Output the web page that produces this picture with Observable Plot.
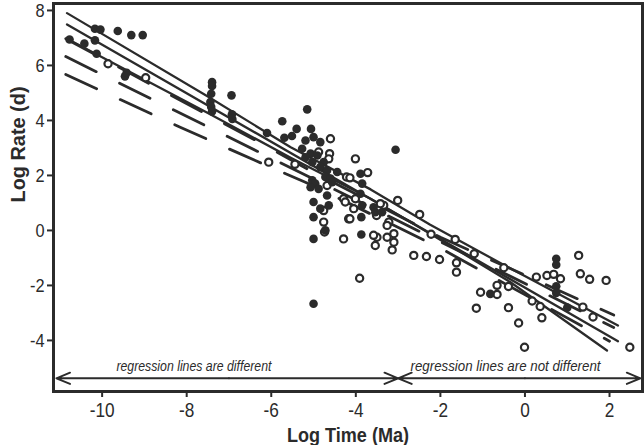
<!DOCTYPE html>
<html>
<head>
<meta charset="utf-8">
<script src="https://cdn.jsdelivr.net/npm/d3@7"></script>
<script src="https://cdn.jsdelivr.net/npm/@observablehq/plot@0.6"></script>
<style>
  html, body { margin: 0; padding: 0; background: #fff; }
  #chart { width: 644px; height: 445px; }
</style>
</head>
<body>
<div id="chart"></div>
<script>
// ---- data ----
const xTicks = [-10, -8, -6, -4, -2, 0, 2];
const yTicks = [-4, -2, 0, 2, 4, 6, 8];

const filledX = [-10.77,-10.42,-10.17,-10.17,-10.04,-10.13,-9.63,-9.31,-9.04,-9.46,-9.42,
  -7.4,-7.4,-7.42,-7.44,-7.42,-7.4,-6.94,-6.93,-6.92,
  -6.1,-5.74,-5.15,-5.4,-5.06,-5.69,-5.51,-5.19,-5.0,-4.84,-5.27,-5.07,-4.91,-5.19,-4.76,-5.03,-4.84,-4.68,-4.72,-4.6,-5.03,-4.96,-5.07,-4.88,-5.0,-4.68,-4.64,-4.84,-5.0,-4.72,-5.0,-5.0,-4.44,-4.56,
  -3.06,-3.89,-3.85,-3.89,-3.85,-3.87,-3.87,-3.58,-3.54,-3.38,
  -0.82,0.74,0.74,0.74,0.74,1.0];
const filledY = [6.87,6.72,6.84,7.26,7.23,6.35,7.18,7.03,7.03,5.53,5.66,
  5.32,5.18,4.9,4.6,4.42,4.25,4.84,4.15,3.98,
  3.47,3.9,4.33,3.62,3.62,3.3,3.36,3.2,3.32,3.14,2.9,2.72,2.65,2.59,2.41,2.41,2.23,2.11,1.87,1.81,1.75,1.63,1.5,1.44,0.96,1.2,0.84,0.72,0.41,-0.07,-0.38,-2.74,2.05,1.68,
  2.86,1.99,1.63,1.26,0.84,0.41,-0.22,0.77,0.59,0.59,
  -2.38,-1.1,-1.32,-2.1,-2.35,-2.88];

const openX = [-9.86,-8.97,-6.06,-5.44,
  -4.6,-4.62,-4.88,-4.64,-4.68,-4.22,-4.29,-4.25,-4.76,-4.76,-4.74,-4.29,-4.17,
  -4.01,-3.72,-4.14,-4.01,-4.05,-4.14,
  -3.51,-3.34,-3.01,-3.22,-3.5,-3.54,-3.26,-3.1,-3.1,-3.14,-3.42,-3.58,-3.26,
  -2.49,-2.63,-2.33,-3.91,-2.22,
  -2.02,-1.65,-1.62,-1.62,-1.2,-1.05,-1.15,-0.66,-0.66,-0.5,-0.39,-0.39,-0.15,-0.01,0.17,0.27,0.36,0.4,0.52,0.68,0.84,1.27,1.31,1.53,1.37,1.61,1.92,2.48];
const openY = [5.99,5.48,2.41,2.33,
  3.26,2.72,2.78,2.53,1.56,1.87,1.08,0.96,0.65,0.23,-0.13,-0.38,0.35,
  2.53,2.03,1.84,1.08,0.72,0.35,
  0.47,0.84,1.02,0.23,-0.32,-0.62,-0.32,-0.19,-0.5,-0.78,0.9,-0.25,0.11,
  0.51,-0.98,-1.02,-1.81,-0.21,
  -1.13,-0.4,-1.25,-1.59,-0.92,-2.32,-2.9,-2.07,-2.4,-1.43,-2.11,-2.88,-3.44,-4.32,-2.64,-1.77,-2.84,-3.25,-1.71,-1.67,-1.83,-0.98,-1.65,-1.85,-2.86,-3.22,-1.89,-4.32];

// regression line + bands, solid (filled series)
const solidUpper = [[-10.83,7.83],[-7.5,4.8],[-5.54,2.95],[-3.65,1.42],[-2.24,0.13],[-0.35,-1.45],[2.2,-3.53]];
const solidMid   = [[-10.83,7.42],[2.2,-4.1]];
const solidLower = [[-10.83,6.9],[-7.5,4.2],[-5.54,2.57],[-3.65,1.08],[-2.24,-0.19],[-0.35,-1.95],[1.94,-4.44]];
// regression line + bands, dashed (open series)
const dashUpper = [[-10.86,6.9],[-8.14,4.65],[-6.35,3.19],[-5.07,2.1],[-2,-0.32],[2.1,-3.15]];
const dashMid   = [[-10.86,6.25],[2.1,-3.6]];
const dashLower = [[-10.86,5.6],[-8.14,3.67],[-6.35,2.45],[-5.07,1.6],[-2,-0.72],[2.0,-4.1]];

const leftLabel = "regression lines are different";
const rightLabel = "regression lines are not different";
const leftLabelX = -7.83;
const rightLabelX = -0.46;
const xLabel = "Log Time (Ma)";
const yLabel = "Log Rate (d)";
const splitX = -3;
const arrowY = -5.45;
const arrowLeft = -11.08;
const arrowRight = 2.73;

// ---- build ----
const ink = "#2b2b2b";
const filled = filledX.map((x, i) => ({x, y: filledY[i]}));
const open = openX.map((x, i) => ({x, y: openY[i]}));
const font = "'Liberation Sans', Arial, Helvetica, sans-serif";

const chart = Plot.plot({
  width: 644,
  height: 445,
  marginLeft: 53,
  marginRight: 2,
  marginTop: 3,
  marginBottom: 54,
  style: {fontFamily: font, fontSize: "18px", color: ink, background: "#fff"},
  x: {domain: [-11.15, 2.78]},
  y: {domain: [-5.93, 8.18]},
  marks: [
    Plot.line(solidUpper, {x: d => d[0], y: d => d[1], stroke: ink, strokeWidth: 2.3}),
    Plot.line(solidMid, {x: d => d[0], y: d => d[1], stroke: ink, strokeWidth: 2.3}),
    Plot.line(solidLower, {x: d => d[0], y: d => d[1], stroke: ink, strokeWidth: 2.3}),
    Plot.line(dashUpper, {x: d => d[0], y: d => d[1], stroke: ink, strokeWidth: 2.8, strokeDasharray: "34,26"}),
    Plot.line(dashMid, {x: d => d[0], y: d => d[1], stroke: ink, strokeWidth: 2.8, strokeDasharray: "34,26"}),
    Plot.line(dashLower, {x: d => d[0], y: d => d[1], stroke: ink, strokeWidth: 2.8, strokeDasharray: "34,26"}),
    Plot.dot(open, {x: "x", y: "y", r: 3.6, stroke: ink, strokeWidth: 2.2, fill: "#fff"}),
    Plot.dot(filled, {x: "x", y: "y", r: 4.3, fill: ink, stroke: "none"}),
    Plot.arrow([
      {x1: -7, x2: arrowLeft}, {x1: -7, x2: splitX},
      {x1: 0, x2: splitX}, {x1: 0, x2: arrowRight}
    ], {x1: "x1", x2: "x2", y1: arrowY, y2: arrowY, stroke: ink, strokeWidth: 2, headLength: 11, headAngle: 45}),
    Plot.text([leftLabel], {x: leftLabelX, y: -5.02, text: d => d, fontStyle: "italic", fontSize: 15, fill: ink}),
    Plot.text([rightLabel], {x: rightLabelX, y: -5.02, text: d => d, fontStyle: "italic", fontSize: 15, fill: ink}),
    Plot.frame({stroke: ink, strokeWidth: 3}),
    Plot.axisX({ticks: xTicks, tickSize: 6, tickPadding: 5, tickFormat: d => String(d), label: null, stroke: ink, strokeWidth: 2, fill: ink, fontSize: 20}),
    Plot.axisY({ticks: yTicks, tickSize: 6, tickPadding: 3, tickFormat: d => String(d), label: null, stroke: ink, strokeWidth: 2, fill: ink, fontSize: 19, dy: 2}),
    Plot.text([xLabel], {frameAnchor: "bottom", dy: 44, text: d => d, fontWeight: "bold", fontSize: 21, fill: ink, lineAnchor: "middle"}),
    Plot.text([yLabel], {frameAnchor: "left", dx: -35, dy: 5, rotate: -90, text: d => d, fontWeight: "bold", fontSize: 21, fill: ink, lineAnchor: "middle"})
  ]
});
document.getElementById("chart").appendChild(chart);

// condense the text to the narrow face seen in the reference
const widths = {[leftLabel]: 155, [rightLabel]: 190, [xLabel]: 122, [yLabel]: 116};
d3.select(chart).selectAll("text").each(function () {
  const t = this.textContent;
  let len;
  if (t in widths) len = widths[t];
  else if (/^-?\d+$/.test(t)) len = this.getComputedTextLength() * 0.86;
  if (len) {
    this.setAttribute("textLength", len);
    this.setAttribute("lengthAdjust", "spacingAndGlyphs");
  }
});
</script>
</body>
</html>
